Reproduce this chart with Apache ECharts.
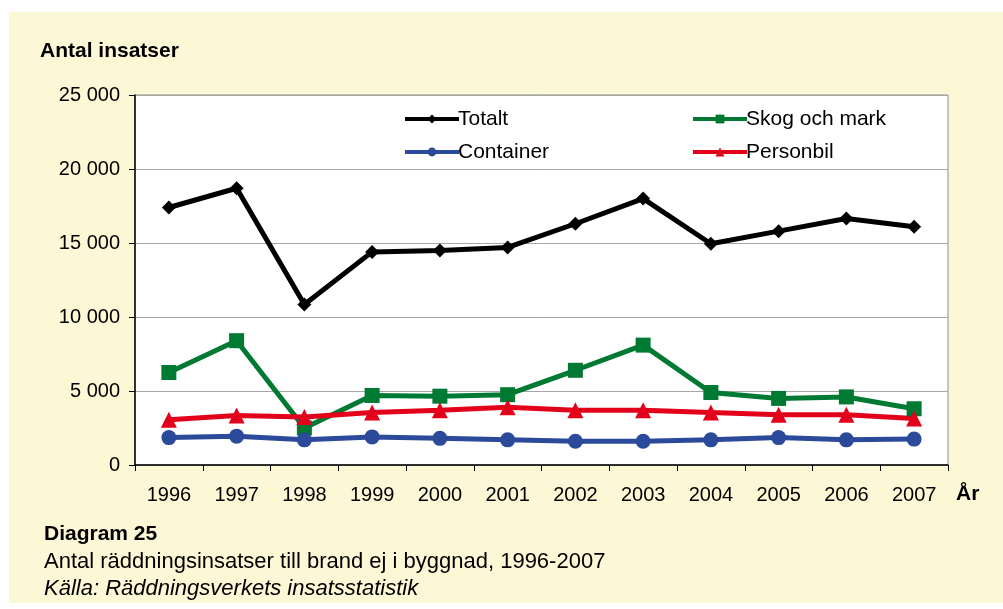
<!DOCTYPE html>
<html>
<head>
<meta charset="utf-8">
<script src="https://cdn.jsdelivr.net/npm/echarts@6/dist/echarts.min.js"></script>
<style>
  html, body { margin: 0; padding: 0; background: #ffffff; }
  #chart { width: 1003px; height: 609px; }
</style>
</head>
<body>
<div id="chart"></div>
<script>
// årtal
var years = ["1996", "1997", "1998", "1999", "2000", "2001", "2002", "2003", "2004", "2005", "2006", "2007"];
// antal insatser per serie
var totalt = [17400, 18700, 10850, 14400, 14500, 14700, 16300, 18000, 14950, 15800, 16650, 16100];
var skog = [6250, 8400, 2500, 4700, 4650, 4750, 6400, 8100, 4900, 4500, 4600, 3800];
var container = [1850, 1950, 1700, 1900, 1800, 1700, 1600, 1600, 1700, 1850, 1700, 1750];
var personbil = [3050, 3350, 3250, 3550, 3700, 3900, 3700, 3700, 3550, 3400, 3400, 3150];

var font = "'Liberation Sans', Arial, sans-serif";

function fmt(v) {
  // tusentalsavgränsare med mellanslag
  return String(v).replace(/\B(?=(\d{3})+(?!\d))/g, " ");
}

function lineSeries(name, data, color, symbol, size) {
  return {
    name: name,
    type: "line",
    data: data,
    symbol: symbol,
    symbolSize: size,
    lineStyle: { color: color, width: 5 },
    itemStyle: { color: color },
    animation: false,
  };
}

var legendBase = {
  top: 103,
  orient: "vertical",
  itemWidth: 54,
  itemHeight: 11,
  itemGap: 11,
  lineStyle: { width: 4 },
  textStyle: { fontSize: 21, color: "#000", lineHeight: 22, padding: [0, 0, 0, -6] },
};

var chart = echarts.init(document.getElementById("chart"));
chart.setOption({
  backgroundColor: "#ffffff",
  textStyle: { fontFamily: font },
  grid: {
    left: 135,
    top: 95,
    right: 55,
    bottom: 144,
    show: true,
    backgroundColor: "#ffffff",
    borderColor: "#8c8c8c",
    borderWidth: 1,
  },
  graphic: [
    {
      type: "rect",
      z: -10,
      shape: { x: 9, y: 12, width: 994, height: 591 },
      style: { fill: "#fcf8d5" },
    },
    {
      type: "text",
      left: 40, top: 41,
      style: { text: "Antal insatser", font: "bold 21px " + font, fill: "#000" },
    },
    {
      type: "text",
      left: 956, top: 484,
      style: { text: "År", font: "bold 21px " + font, fill: "#000" },
    },
    {
      type: "text",
      left: 44, top: 524,
      style: { text: "Diagram 25", font: "bold 21px " + font, fill: "#000" },
    },
    {
      type: "text",
      left: 44, top: 551,
      style: { text: "Antal räddningsinsatser till brand ej i byggnad, 1996-2007", font: "22px " + font, fill: "#000" },
    },
    {
      type: "text",
      left: 44, top: 578,
      style: { text: "Källa: Räddningsverkets insatsstatistik", font: "italic 22px " + font, fill: "#000" },
    },
  ],
  legend: [
    Object.assign({ left: 398, data: ["Totalt", "Container"] }, legendBase),
    Object.assign({ left: 686, data: ["Skog och mark", "Personbil"] }, legendBase),
  ],
  xAxis: {
    type: "category",
    data: years,
    boundaryGap: true,
    axisLine: { lineStyle: { color: "#000", width: 1.5 } },
    axisTick: { show: true, length: 6, lineStyle: { color: "#000" } },
    axisLabel: { color: "#000", fontSize: 20, margin: 20 },
  },
  yAxis: {
    type: "value",
    min: 0,
    max: 25000,
    interval: 5000,
    axisLine: { show: true, lineStyle: { color: "#000", width: 1.5 } },
    axisTick: { show: true, length: 6, lineStyle: { color: "#000" } },
    axisLabel: { color: "#000", fontSize: 20, margin: 15, formatter: fmt },
    splitLine: { lineStyle: { color: "#a6a6a6", width: 1 } },
  },
  series: [
    lineSeries("Totalt", totalt, "#000000", "diamond", 14),
    lineSeries("Skog och mark", skog, "#007a33", "rect", 15),
    lineSeries("Container", container, "#2b4a9a", "circle", 15),
    lineSeries("Personbil", personbil, "#e2001a", "triangle", 16),
  ],
});
</script>
</body>
</html>
